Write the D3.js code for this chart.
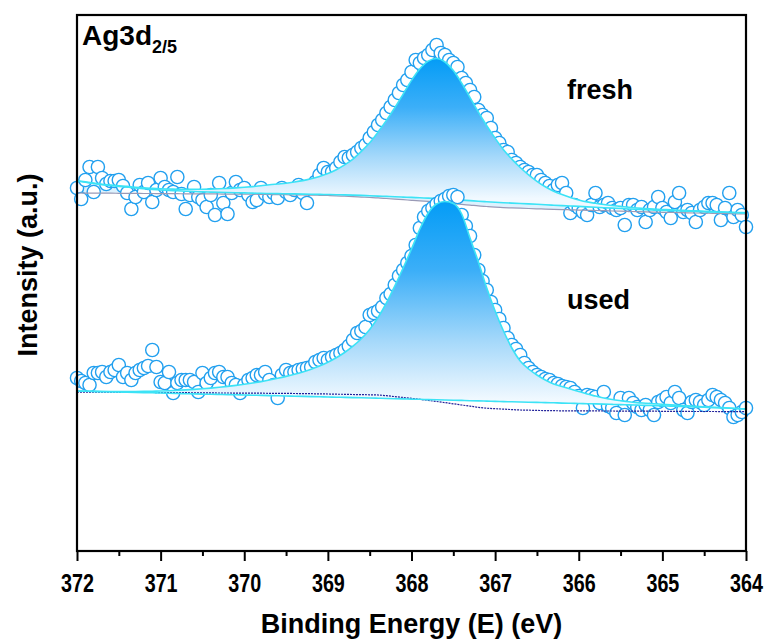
<!DOCTYPE html>
<head>
<meta charset="utf-8">
<style>
    body {
        margin: 0;
        background: #fff;
        font-family: "Liberation Sans", Arial, Helvetica, sans-serif;
    }
    .frame { fill: none; stroke: #000; stroke-width: 2.2; }
    .pt { fill: #fff; stroke: #22a0ef; stroke-width: 1.4; }
    .fit { fill: none; stroke: #3ce3f6; stroke-width: 1.6; }
    .bg-fresh { fill: none; stroke: #9a9ab6; stroke-width: 1.2; }
    .bg-used { fill: none; stroke: #22229a; stroke-width: 1.2; stroke-dasharray: 2,1; }
    .lbl { font-weight: bold; fill: #000; }
</style>
</head>
<body>
<script src="https://cdn.jsdelivr.net/npm/d3@7"></script>
<script>
// measured points: 372 -> 364 eV, 0.05 eV step
var beStart = 372, beStep = 0.05;
var freshCounts = [
    363,352,371,384,359,384,373,367,370,370,
    371,365,358,342,354,366,359,368,349,361,
    373,364,361,359,374,357,342,356,364,354,
    351,344,356,336,368,348,337,358,369,361,
    363,356,349,351,363,357,354,358,353,363,
    359,356,361,366,358,348,364,369,376,383,
    379,379,383,389,394,393,396,399,403,406,
    413,419,426,431,438,444,451,458,466,471,
    479,491,488,493,496,501,506,498,496,491,
    488,484,473,468,461,454,441,436,433,423,
    413,408,401,399,391,388,384,381,379,376,
    376,371,368,365,361,366,368,358,338,346,
    343,339,336,346,358,344,346,348,343,341,
    343,326,346,346,341,344,329,341,344,354,
    343,339,333,349,358,339,341,338,329,341,
    344,348,348,346,331,343,358,334,341,336,
    324];
var usedCounts = [
    173,170,168,166,178,178,179,174,179,181,
    186,174,178,171,178,181,183,185,201,184,
    169,168,179,158,168,171,171,171,169,159,
    178,168,173,178,179,174,174,168,166,158,
    166,171,173,176,176,179,171,166,153,176,
    181,178,179,181,182,183,184,189,191,193,
    191,194,196,198,201,205,211,218,220,224,
    236,238,240,244,253,257,266,275,281,288,
    295,306,323,334,340,343,347,350,352,355,
    356,354,336,325,315,296,281,270,261,249,
    241,232,223,213,206,202,196,188,183,179,
    176,174,172,171,168,167,165,164,163,159,
    155,143,156,155,154,148,159,145,143,138,
    153,136,153,148,144,141,146,141,136,149,
    151,154,148,159,153,141,138,149,151,149,
    146,151,156,154,151,148,143,134,136,139,
    143];

// fitted curves: 372 -> 364 eV, 0.1 eV step
var fitStart = 372, fitStep = 0.1;
var freshBg = [
    358.0,357.9,357.9,357.8,357.8,357.7,357.6,357.6,357.5,357.5,
    357.4,357.4,357.3,357.2,357.2,357.1,357.1,357.0,356.9,356.9,
    356.8,356.8,356.7,356.5,356.4,356.3,356.1,356.0,355.8,355.7,
    355.5,355.2,354.8,354.4,353.9,353.5,353.1,352.5,351.9,351.3,
    350.7,350.1,349.6,349.0,348.2,347.4,346.6,345.9,345.1,344.5,
    343.9,343.4,343.1,342.8,342.5,342.2,341.9,341.6,341.4,341.2,
    340.9,340.7,340.5,340.3,340.0,339.8,339.6,339.3,339.1,338.9,
    338.7,338.6,338.4,338.2,338.0,337.9,337.7,337.5,337.4,337.2,
    337.0];
var freshBase = [
    370.0,368.7,367.5,366.3,365.5,364.6,363.8,363.0,362.3,361.6,
    361.0,360.6,360.2,359.8,359.5,359.1,358.9,358.7,358.5,358.3,
    358.1,357.9,357.7,357.5,357.4,357.2,357.1,356.9,356.8,356.6,
    356.5,356.3,356.1,355.9,355.6,355.2,354.9,354.6,354.2,353.9,
    353.6,353.2,352.9,352.5,352.0,351.4,350.9,350.4,349.8,349.3,
    348.8,348.3,347.9,347.5,347.1,346.7,346.2,345.8,345.4,345.0,
    344.6,344.1,343.7,343.3,342.9,342.5,342.0,341.6,341.2,340.9,
    340.6,340.4,340.1,339.8,339.6,339.3,339.0,338.8,338.5,338.2,
    338.0];
var freshEnv = [
    370.3,369.1,367.9,366.8,366.0,365.2,364.5,363.8,363.2,362.6,
    362.2,362.0,361.8,361.7,361.7,361.7,361.9,362.2,362.6,363.1,
    363.7,364.4,365.2,366.2,367.0,367.8,369.0,370.4,372.2,374.6,
    377.5,381.3,386.1,391.9,399.6,408.2,418.9,430.6,443.2,456.9,
    470.6,482.2,489.9,492.5,489.0,480.4,467.9,453.4,438.8,425.3,
    412.8,401.3,391.9,383.5,376.1,369.7,364.2,359.8,356.4,353.5,
    351.1,349.1,347.7,346.5,345.5,344.6,343.7,343.0,342.4,341.9,
    341.5,341.2,340.8,340.4,340.1,339.8,339.4,339.2,338.8,338.5,
    338.3];
var usedBg = [
    159.0,158.9,158.9,158.8,158.8,158.7,158.7,158.6,158.5,158.5,
    158.4,158.4,158.3,158.3,158.2,158.2,158.1,158.0,158.0,157.9,
    157.9,157.8,157.8,157.7,157.6,157.6,157.5,157.4,157.3,157.1,
    157.0,156.8,156.7,156.5,156.4,156.2,156.0,155.3,154.4,153.5,
    152.6,151.7,150.6,149.5,148.4,147.2,146.0,144.9,143.6,142.8,
    142.3,141.9,141.4,141.0,140.8,140.6,140.4,140.3,140.2,140.2,
    140.2,140.1,140.1,140.0,140.0,139.9,139.9,139.8,139.8,139.8,
    139.7,139.7,139.6,139.6,139.5,139.5,139.5,139.4,139.4,139.3,
    139.3];
var usedBase = [
    160.0,159.8,159.6,159.4,159.2,159.0,158.8,158.6,158.4,158.2,
    158.0,157.8,157.6,157.3,157.1,156.9,156.7,156.6,156.4,156.2,
    156.0,155.8,155.6,155.4,155.2,155.0,154.8,154.6,154.4,154.2,
    154.0,153.8,153.6,153.4,153.2,153.0,152.8,152.5,152.3,152.1,
    151.9,151.7,151.4,151.2,151.0,150.8,150.6,150.3,150.1,149.9,
    149.6,149.4,149.2,149.0,148.8,148.6,148.4,148.2,147.9,147.7,
    147.5,147.3,147.1,146.9,146.6,146.4,146.1,145.9,145.6,145.4,
    145.1,144.9,144.6,144.4,144.1,143.8,143.4,143.1,142.7,142.4,
    142.0];
var usedEnv = [
    160.0,159.8,159.6,159.5,159.4,159.4,159.4,159.5,159.6,159.8,
    160.0,160.3,160.7,161.1,161.6,162.2,162.9,163.7,164.6,165.6,
    166.7,168.0,169.4,171.0,172.7,174.6,176.7,179.1,181.8,185.0,
    188.8,193.2,198.5,204.8,212.2,221.5,233.5,248.0,265.0,283.0,
    302.0,322.0,338.0,347.0,349.5,347.5,337.0,313.0,289.0,263.0,
    240.0,220.0,203.0,190.0,182.0,176.0,171.0,167.0,164.5,162.0,
    159.5,157.0,155.0,153.0,151.5,150.3,149.2,148.4,147.8,147.2,
    146.7,146.1,145.6,145.2,144.7,144.2,143.8,143.4,143.0,142.5,
    142.0];

var majorTicks = [372, 371, 370, 369, 368, 367, 366, 365, 364];
var minorTicks = [371.5, 370.5, 369.5, 368.5, 367.5, 366.5, 365.5, 364.5];

var W = 765, H = 639;
var margin = {top: 15, left: 77, right: 19, bottom: 88};

var svg = d3.select("body").append("svg")
    .attr("width", W)
    .attr("height", H);

var x = d3.scaleLinear().domain([372, 364]).range([margin.left, W - margin.right]);
var y = d3.scaleLinear().domain([0, 536]).range([H - margin.bottom, margin.top]);

function toPts(vals, start, step) {
    return vals.map(function(v, i) { return {e: +(start - i * step).toFixed(2), v: v}; });
}
function toBand(lo, hi) {
    return lo.map(function(v, i) { return {e: +(fitStart - i * fitStep).toFixed(2), lo: v, hi: hi[i]}; });
}

var line = d3.line()
    .x(function(d) { return x(d.e); })
    .y(function(d) { return y(d.v); })
    .curve(d3.curveMonotoneX);
var band = d3.area()
    .x(function(d) { return x(d.e); })
    .y0(function(d) { return y(d.lo); })
    .y1(function(d) { return y(d.hi); })
    .curve(d3.curveMonotoneX);

var defs = svg.append("defs");
function peakGradient(id, env, base) {
    var top = d3.max(env), k = env.indexOf(top);
    var g = defs.append("linearGradient")
        .attr("id", id)
        .attr("gradientUnits", "userSpaceOnUse")
        .attr("x1", 0).attr("x2", 0)
        .attr("y1", y(top)).attr("y2", y(base[k]));
    g.append("stop").attr("offset", "0%").attr("stop-color", "#049cf6");
    g.append("stop").attr("offset", "35%").attr("stop-color", "#3caff8");
    g.append("stop").attr("offset", "70%").attr("stop-color", "#a4d8fa");
    g.append("stop").attr("offset", "100%").attr("stop-color", "#f1f9ff");
    return "url(#" + id + ")";
}

function spectrum(cls, counts, bg, base, env, tail) {
    var g = svg.append("g").attr("class", cls);
    if (tail) {
        g.append("path")
            .datum(toBand(bg, base))
            .attr("d", band)
            .attr("fill", "#ddf2fe");
    }
    g.append("g").selectAll("circle")
        .data(toPts(counts, beStart, beStep))
        .enter().append("circle")
        .attr("class", "pt")
        .attr("cx", function(d) { return x(d.e); })
        .attr("cy", function(d) { return y(d.v); })
        .attr("r", 6.6);
    g.append("path")
        .datum(toBand(base, env))
        .attr("d", band)
        .attr("fill", peakGradient("grad-" + cls, env, base));
    g.append("path")
        .datum(toPts(bg, fitStart, fitStep))
        .attr("class", tail ? "bg-fresh" : "bg-used")
        .attr("d", line);
    g.append("path")
        .datum(toPts(base, fitStart, fitStep))
        .attr("class", "fit")
        .attr("d", line);
    g.append("path")
        .datum(toPts(env, fitStart, fitStep))
        .attr("class", "fit")
        .attr("d", line);
}

spectrum("fresh", freshCounts, freshBg, freshBase, freshEnv, true);
spectrum("used", usedCounts, usedBg, usedBase, usedEnv, false);

// frame
svg.append("rect")
    .attr("class", "frame")
    .attr("x", x(372)).attr("y", y(536))
    .attr("width", x(364) - x(372))
    .attr("height", y(0) - y(536));

// bottom axis: minor then major ticks
var minorAxis = svg.append("g")
    .attr("transform", "translate(0," + y(0) + ")")
    .call(d3.axisBottom(x).tickValues(minorTicks).tickSize(5).tickFormat(""));
var majorAxis = svg.append("g")
    .attr("transform", "translate(0," + y(0) + ")")
    .call(d3.axisBottom(x).tickValues(majorTicks).tickSize(10).tickFormat(d3.format("d")));
[minorAxis, majorAxis].forEach(function(a) {
    a.select(".domain").remove();
    a.selectAll(".tick line").attr("stroke", "#000").attr("stroke-width", 2);
});
majorAxis.selectAll(".tick text")
    .attr("y", 41)
    .attr("dy", null)
    .attr("transform", "scale(0.76,1)")
    .attr("font-family", "'Liberation Sans', Arial, sans-serif")
    .attr("font-weight", "bold")
    .attr("font-size", 26)
    .attr("fill", "#000");

svg.append("text")
    .attr("class", "lbl")
    .attr("x", (x(372) + x(364)) / 2)
    .attr("y", 633)
    .attr("text-anchor", "middle")
    .attr("font-size", 27)
    .text("Binding Energy (E) (eV)");

svg.append("text")
    .attr("class", "lbl")
    .attr("transform", "translate(37," + ((y(0) + y(536)) / 2 - 18) + ") rotate(-90)")
    .attr("text-anchor", "middle")
    .attr("font-size", 27)
    .text("Intensity (a.u.)");

var title = svg.append("text")
    .attr("class", "lbl")
    .attr("x", 82)
    .attr("y", 45)
    .attr("font-size", 28);
title.append("tspan").text("Ag3d");
title.append("tspan").attr("font-size", 18).attr("dy", 8).text("2/5");

svg.append("text")
    .attr("class", "lbl")
    .attr("x", 567).attr("y", 99)
    .attr("font-size", 27)
    .text("fresh");
svg.append("text")
    .attr("class", "lbl")
    .attr("x", 567).attr("y", 309)
    .attr("font-size", 27)
    .text("used");
</script>
</body>
